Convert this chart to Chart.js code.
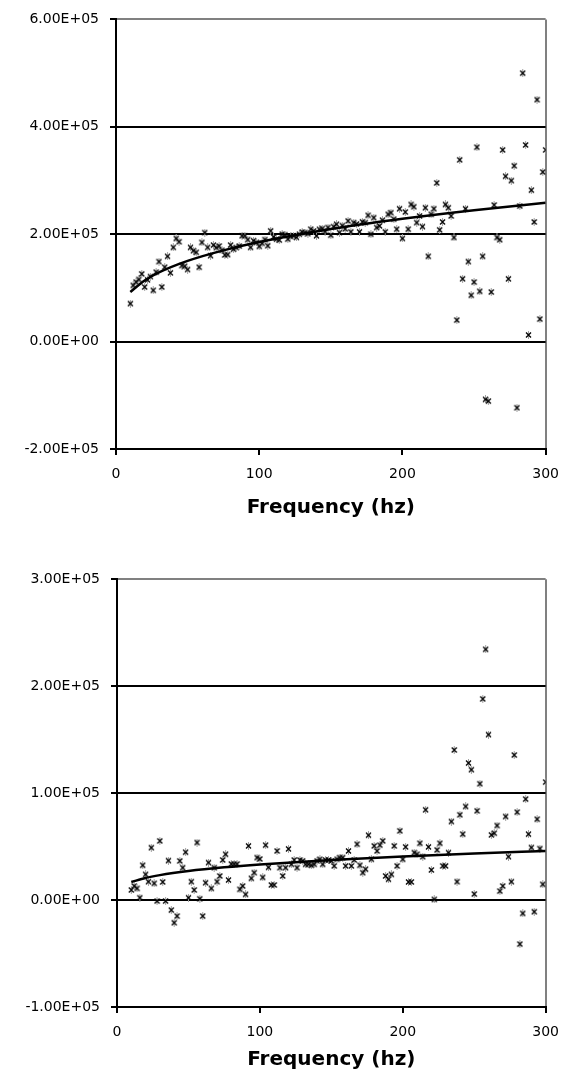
<!DOCTYPE html>
<html><head><meta charset="utf-8">
<script src="https://cdn.jsdelivr.net/npm/chart.js@4.4.1/dist/chart.umd.min.js"></script>
<style>
html,body{margin:0;padding:0;background:#fff;width:570px;height:1075px;overflow:hidden}
canvas{position:absolute;left:0}
#c1{top:0}
#c2{top:540px}
</style></head><body>
<canvas id="c1" width="570" height="530"></canvas>
<canvas id="c2" width="570" height="535"></canvas>
<script>
// ---- data ----
const freqHz = [10,12,14,16,18,20,22,24,26,28,30,32,34,36,38,40,42,44,46,48,50,52,54,56,58,60,62,64,66,68,70,72,74,76,78,80,82,84,86,88,90,92,94,96,98,100,102,104,106,108,110,112,114,116,118,120,122,124,126,128,130,132,134,136,138,140,142,144,146,148,150,152,154,156,158,160,162,164,166,168,170,172,174,176,178,180,182,184,186,188,190,192,194,196,198,200,202,204,206,208,210,212,214,216,218,220,222,224,226,228,230,232,234,236,238,240,242,244,246,248,250,252,254,256,258,260,262,264,266,268,270,272,274,276,278,280,282,284,286,288,290,292,294,296,298,300];

const topValues = [
70800,104700,110800,115700,126100,101600,115000,121000,95400,129300,
149000,101600,138500,158800,128000,175400,192000,186000,141600,140300,
134200,175400,169300,166200,138500,184700,203000,175400,160100,179700,
175000,178000,170000,161300,162000,179700,172000,175000,178000,197000,
197000,190000,175400,188000,184700,177300,183000,190000,178600,206200,
195000,190800,189000,200000,199000,190800,196000,197000,194000,200000,
204000,203100,201000,209300,206000,197000,209000,210500,205000,212400,
198100,214000,218500,203100,216000,210000,224700,204400,221600,219000,
204400,223000,221600,235100,200000,230800,212400,215500,226000,204400,
237000,240100,228000,209300,247500,192000,241300,209300,255400,251200,
221600,233900,214200,249300,158800,237000,247500,295500,208100,222800,
255400,249300,233900,193900,40000,338500,117000,247500,149000,86200,
110800,362000,93600,158800,-107700,-110800,92300,254300,193900,189700,
357000,307800,116900,299800,327400,-123100,252400,499900,366200,12300,
282000,222800,450600,41900,315800,357000];

const bottomValues = [
9400,13100,10900,2200,32500,24000,17200,49000,15600,-900,
55300,16900,-900,36900,-9400,-21200,-15000,36600,30300,44700,
2200,17200,9400,53800,1200,-15000,16200,35000,10900,30300,
17200,22500,37500,42800,18700,33700,33700,33700,10000,13100,
5300,50600,20300,25600,39700,38400,21200,51300,30600,14100,
14100,45900,30300,22500,30300,47800,33400,37500,30300,37500,
36600,33400,33400,32500,33400,36600,38100,33400,37500,37500,
36600,31900,38100,39700,39700,31900,45900,31900,37500,52200,
32500,25600,28800,60600,38100,50600,45900,51300,55300,22500,
19400,24000,50600,31900,64700,38100,49700,16900,16900,44400,
42800,53100,40600,84400,49700,28100,600,46900,53100,31900,
31900,44400,73400,140300,17200,79700,61600,87500,128100,121900,
5600,83400,108800,188100,234400,154700,60900,62500,69700,8400,
13100,78100,40600,17200,135600,82200,-41200,-12500,94400,61600,
49100,-10900,75600,48100,14700,110300];

const trendFreq = [10,20,30,50,75,100,150,200,250,300];
const topTrend = [92300,113900,128800,150300,169900,185400,209700,228800,244800,258500];
const bottomTrend = [16900,20700,23300,27100,30600,33300,37500,40800,43500,45900];

const xTickLabels = ['0','100','200','300'];
const topYTickLabels = ['-2.00E+05','0.00E+00','2.00E+05','4.00E+05','6.00E+05'];
const bottomYTickLabels = ['-1.00E+05','0.00E+00','1.00E+05','2.00E+05','3.00E+05'];
const xTitle = 'Frequency (hz)';

// ---- styling ----
const FONT = '"DejaVu Sans", Verdana, sans-serif';

// software-backed 2D contexts so every drawing step is kept in the snapshot
document.getElementById('c1').getContext('2d', {willReadFrequently:true});
document.getElementById('c2').getContext('2d', {willReadFrequently:true});

function makeMarker(){
  const c = document.createElement('canvas');
  c.width = 7; c.height = 8;
  const g = c.getContext('2d');
  g.strokeStyle = '#a0a0a0'; g.lineWidth = 1;
  g.beginPath(); g.moveTo(3.5,0); g.lineTo(3.5,8); g.stroke();
  g.strokeStyle = '#000'; g.lineWidth = 1.3;
  g.beginPath(); g.moveTo(1,1.5); g.lineTo(6,6.5); g.moveTo(6,1.5); g.lineTo(1,6.5); g.stroke();
  return c;
}
const marker = makeMarker();

const flushPlugin = {id:'flush', afterDraw(chart){ chart.ctx.getImageData(0,0,1,1); }};

function pts(xs, ys){ return xs.map((x,i)=>({x:x, y:ys[i]})); }

function makeChart(id, values, trend, yMin, yMax, yStep, yLabels, yWidth, xHeight, pad, titlePadBottom){
  return new Chart(document.getElementById(id), {
    type:'scatter',
    data:{datasets:[
      {type:'line', data:pts(trendFreq, trend), borderColor:'#000', borderWidth:2.5,
       pointRadius:0, cubicInterpolationMode:'monotone', fill:false, showLine:true},
      {data:pts(freqHz, values), pointStyle:marker, pointRadius:4,
       borderColor:'#000', backgroundColor:'#000'}
    ]},
    options:{
      responsive:false, animation:false,
      layout:{padding:pad},
      plugins:{legend:{display:false}, tooltip:{enabled:false}},
      scales:{
        x:{type:'linear', min:0, max:300,
           ticks:{stepSize:100, color:'#000', font:{family:FONT,size:14}, padding:11, maxRotation:0,
                  callback:(v,i)=>xTickLabels[i]},
           grid:{color:c=>(c.tick && c.tick.value===300)?'#808080':'rgba(0,0,0,0)', lineWidth:2,
                 tickColor:'#000', tickLength:6, tickWidth:2},
           border:{color:'#000', width:2},
           title:{display:true, text:xTitle, color:'#000', font:{family:FONT,size:20,weight:'bold'},
                  padding:{top:0,bottom:titlePadBottom}},
           afterFit(s){ s.height = xHeight; }},
        y:{type:'linear', min:yMin, max:yMax,
           ticks:{stepSize:yStep, color:'#000', font:{family:FONT,size:14}, padding:11,
                  callback:(v,i)=>yLabels[i]},
           grid:{color:c=>(c.tick && c.tick.value===yMax)?'#808080':'#000', lineWidth:2,
                 tickColor:'#000', tickLength:6, tickWidth:2},
           border:{color:'#000', width:2},
           afterFit(s){ s.width = yWidth; }}
      }
    },
    plugins:[flushPlugin]
  });
}

makeChart('c1', topValues, topTrend, -200000, 600000, 200000, topYTickLabels, 116, 81,
          {left:0,right:18.6,top:15.2,bottom:0}, 10);
makeChart('c2', bottomValues, bottomTrend, -100000, 300000, 100000, bottomYTickLabels, 117, 68,
          {left:0,right:15.6,top:39.2,bottom:0}, 3);
</script>
</body></html>
